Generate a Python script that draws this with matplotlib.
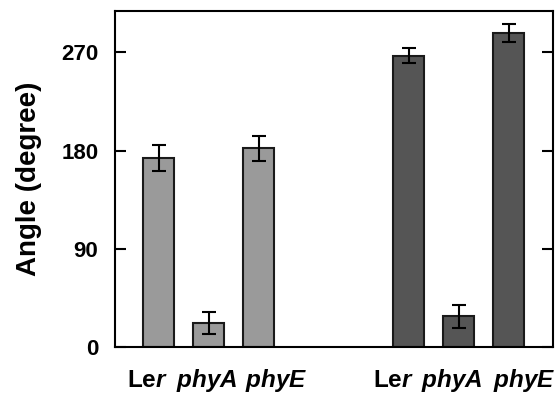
import numpy as np
import matplotlib.pyplot as plt

plt.rcParams['font.family'] = 'Liberation Sans'
plt.rcParams['font.weight'] = 'bold'
plt.rcParams['mathtext.fontset'] = 'custom'
plt.rcParams['mathtext.rm'] = 'Liberation Sans:bold'
plt.rcParams['mathtext.it'] = 'Liberation Sans:bold:italic'

# data
labels = [r'$\mathrm{Le}\mathit{r}$', r'$\mathit{phyA}$', r'$\mathit{phyE}$',
          r'$\mathrm{Le}\mathit{r}$', r'$\mathit{phyA}$', r'$\mathit{phyE}$']
positions = [0, 1, 2, 5, 6, 7]
angles = [173, 22, 182, 267, 28, 288]
errors = [12, 10, 11.5, 7, 10.5, 8]
colors = ['#9a9a9a'] * 3 + ['#555555'] * 3

fig = plt.figure(figsize=(5.55, 3.93), dpi=100)
ax = fig.add_axes([115 / 555, 1 - 347 / 393, 438 / 555, 336 / 393])

ax.bar(positions, angles, width=0.62, color=colors, edgecolor='#1a1a1a',
       linewidth=1.5, yerr=errors,
       error_kw=dict(ecolor='black', elinewidth=1.5, capsize=5, capthick=1.5))

ax.set_xlim(-0.87, 7.89)
ax.set_ylim(0, 308)
ax.set_yticks([0, 90, 180, 270])
# labels sit a little spread out from the bar centres, as in the original
label_pos = np.array(positions) + np.array([-0.22, -0.04, 0.36, -0.3, -0.13, 0.32])
ax.set_xticks(label_pos)
ax.set_xticklabels(labels, fontsize=17.5)
ax.tick_params(axis='x', length=0, pad=29)
for lbl in ax.get_xticklabels():
    lbl.set_verticalalignment('baseline')
ax.tick_params(axis='y', direction='in', length=8, width=1.5, right=True,
               labelsize=16, pad=12)
for s in ax.spines.values():
    s.set_linewidth(1.5)
ax.set_ylabel('Angle (degree)', fontsize=20, fontweight='bold', labelpad=14)

fig.savefig('out.png', dpi=100)
